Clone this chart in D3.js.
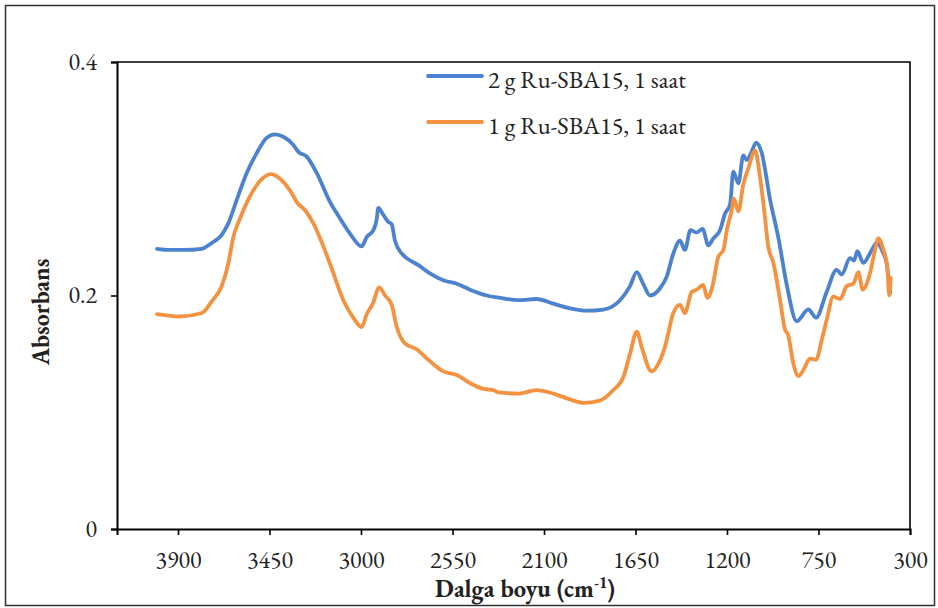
<!DOCTYPE html>
<html>
<head>
<meta charset="utf-8">
<script src="https://cdn.jsdelivr.net/npm/d3@7"></script>
<style>
  html, body { margin: 0; padding: 0; background: #fff; }
  svg { display: block; }
</style>
</head>
<body>
<svg id="chart" width="938" height="608"></svg>
<script>
// ---- Data ----
const seriesNames = ["2 g Ru-SBA15, 1 saat", "1 g Ru-SBA15, 1 saat"];
const xTicks = [3900, 3450, 3000, 2550, 2100, 1650, 1200, 750, 300];
const yTicks = [0, 0.2, 0.4];
const yTickLabels = ["0", "0.2", "0.4"];

const blueWave = [4003,3940,3874,3783,3734,3685,3652,3611,3562,3513,3464,3423,3382,3333,3308,3267,3218,3152,3103,3054,2997,2972,2939,2923,2915,2890,2866,2849,2833,2800,2775,2718,2661,2595,2529,2464,2382,2316,2226,2136,2054,1972,1890,1808,1726,1677,1644,1612,1579,1530,1497,1464,1431,1407,1380,1349,1320,1292,1267,1234,1210,1185,1169,1144,1120,1103,1079,1057,1029,988,948,906,857,800,762,710,661,636,595,575,559,530,488,464,431,415,398];
const blueAbs = [0.240,0.239,0.239,0.240,0.245,0.252,0.262,0.282,0.305,0.322,0.335,0.338,0.336,0.329,0.323,0.319,0.305,0.280,0.266,0.253,0.242,0.250,0.256,0.265,0.275,0.269,0.263,0.261,0.247,0.236,0.232,0.226,0.219,0.213,0.210,0.205,0.200,0.198,0.196,0.197,0.193,0.189,0.187,0.188,0.196,0.208,0.220,0.210,0.200,0.206,0.216,0.236,0.247,0.239,0.256,0.254,0.257,0.243,0.249,0.256,0.270,0.278,0.306,0.296,0.320,0.316,0.323,0.331,0.322,0.282,0.250,0.209,0.178,0.188,0.181,0.203,0.222,0.218,0.232,0.230,0.238,0.228,0.239,0.245,0.236,0.228,0.202];

const orangeWave = [4003,3890,3783,3734,3685,3652,3628,3595,3546,3497,3444,3398,3349,3316,3275,3235,3152,3087,3038,2997,2972,2942,2910,2882,2849,2824,2784,2726,2669,2595,2529,2464,2399,2349,2325,2226,2136,2054,1972,1907,1825,1759,1710,1677,1644,1620,1571,1546,1505,1464,1431,1407,1374,1349,1317,1297,1270,1243,1218,1201,1177,1166,1144,1120,1095,1062,1038,1021,997,972,939,915,899,874,849,825,792,762,734,710,677,644,611,579,554,533,497,472,456,431,412,402,395];
const orangeAbs = [0.184,0.182,0.185,0.195,0.208,0.228,0.250,0.266,0.285,0.298,0.304,0.300,0.290,0.280,0.273,0.262,0.227,0.196,0.181,0.173,0.184,0.193,0.207,0.200,0.192,0.173,0.159,0.154,0.145,0.135,0.132,0.125,0.120,0.119,0.117,0.116,0.119,0.116,0.111,0.108,0.110,0.119,0.130,0.150,0.169,0.156,0.135,0.139,0.156,0.185,0.192,0.185,0.203,0.205,0.209,0.198,0.209,0.233,0.239,0.256,0.273,0.283,0.272,0.295,0.309,0.324,0.302,0.279,0.242,0.228,0.196,0.171,0.166,0.142,0.131,0.136,0.146,0.145,0.162,0.179,0.199,0.197,0.208,0.210,0.220,0.205,0.219,0.239,0.249,0.239,0.225,0.200,0.215];

const colors = ["#4D82CE", "#F39240"];

// ---- Layout ----
const svg = d3.select("#chart");
const plot = { left: 117, top: 62, right: 910, bottom: 529 };
const FONT = "EB Garamond";

// Outer border
svg.append("rect")
  .attr("x", 5.5).attr("y", 5.5).attr("width", 929).attr("height", 600)
  .attr("fill", "none").attr("stroke", "#333").attr("stroke-width", 1.5);

const x = d3.scaleLinear().domain([4200, 300]).range([plot.left, plot.right]);
const y = d3.scaleLinear().domain([0, 0.4]).range([plot.bottom, plot.top]);

// Plot frame (top & right)
svg.append("path")
  .attr("d", `M${plot.left},${plot.top}H${plot.right}V${plot.bottom}`)
  .attr("fill", "none").attr("stroke", "#000").attr("stroke-width", 1.6);

// Y axis
const yAxis = d3.axisLeft(y).tickValues(yTicks)
  .tickFormat((d, i) => yTickLabels[i]).tickSize(6).tickPadding(14);
const gy = svg.append("g").attr("transform", `translate(${plot.left},0)`).call(yAxis);
gy.attr("font-family", FONT).attr("font-size", 24);
gy.select(".domain").attr("stroke", "#000").attr("stroke-width", 2);
gy.selectAll(".tick line").attr("stroke", "#000").attr("stroke-width", 1.6);
gy.selectAll(".tick text").attr("fill", "#222").attr("dy", "0.3em")
  .style("font-variant-numeric", "lining-nums");

// X axis
const xAxis = d3.axisBottom(x).tickValues(xTicks).tickSize(6).tickPadding(16)
  .tickFormat(d3.format("d"));
const gx = svg.append("g").attr("transform", `translate(0,${plot.bottom})`).call(xAxis);
gx.attr("font-family", FONT).attr("font-size", 24);
gx.select(".domain").attr("stroke", "#000").attr("stroke-width", 2);
gx.selectAll(".tick line").attr("stroke", "#000").attr("stroke-width", 1.6);
gx.selectAll(".tick text").attr("fill", "#222").attr("dy", null).attr("y", 39)
  .style("font-variant-numeric", "lining-nums");

// Lines
const line = d3.line()
  .x(d => x(d[0])).y(d => y(d[1]))
  .curve(d3.curveMonotoneX);
const blueData = blueWave.map((w, i) => [w, blueAbs[i]]);
const orangeData = orangeWave.map((w, i) => [w, orangeAbs[i]]);

svg.append("path").datum(blueData)
  .attr("d", line).attr("fill", "none")
  .attr("stroke", colors[0]).attr("stroke-width", 3.8)
  .attr("stroke-linejoin", "round").attr("stroke-linecap", "round");
svg.append("path").datum(orangeData)
  .attr("d", line).attr("fill", "none")
  .attr("stroke", colors[1]).attr("stroke-width", 3.8)
  .attr("stroke-linejoin", "round").attr("stroke-linecap", "round");

// Legend
const legendY = [76, 122];
seriesNames.forEach((name, i) => {
  svg.append("line")
    .attr("x1", 428).attr("x2", 482)
    .attr("y1", legendY[i]).attr("y2", legendY[i])
    .attr("stroke", colors[i]).attr("stroke-width", 3.8).attr("stroke-linecap", "round");
  svg.append("text")
    .attr("x", 488).attr("y", legendY[i] + 12)
    .attr("font-family", FONT)
    .attr("font-size", 24.5)
    .attr("fill", "#222")
    .style("font-variant-numeric", "lining-nums")
    .text(name);
});

// Axis titles
const xt = svg.append("text")
  .attr("x", 525).attr("y", 597)
  .attr("text-anchor", "middle")
  .attr("font-family", FONT)
  .attr("font-size", 24.5).attr("font-weight", "bold")
  .attr("fill", "#222");
xt.append("tspan").text("Dalga boyu (cm");
xt.append("tspan").attr("dy", -9).attr("font-size", 16).text("-1");
xt.append("tspan").attr("dy", 9).text(")");

svg.append("text")
  .attr("transform", "translate(49,312) rotate(-90)")
  .attr("text-anchor", "middle")
  .attr("font-family", FONT)
  .attr("font-size", 24).attr("font-weight", "bold")
  .attr("fill", "#222")
  .text("Absorbans");
</script>
</body>
</html>
